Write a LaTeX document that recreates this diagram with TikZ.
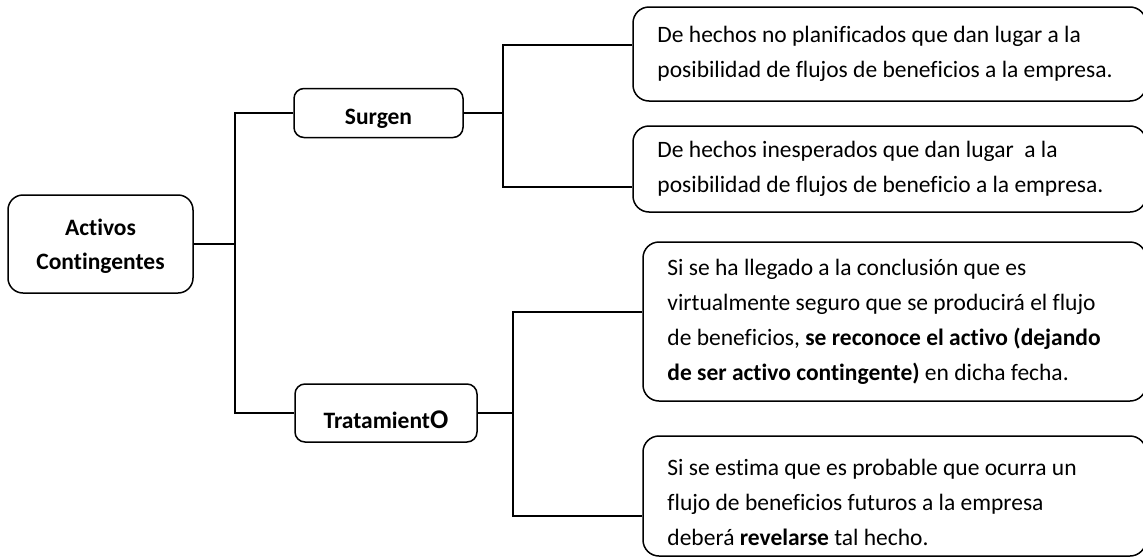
\documentclass[tikz,border=0pt]{standalone}
\usepackage{fontspec}
\setmainfont[Ligatures={NoCommon}]{Carlito}
\begin{document}
\begin{tikzpicture}[x=1pt,y=-1pt,
  conn/.style={line width=1.5pt},
  sbox/.style={draw, line width=1.5pt, rounded corners=10pt, inner sep=0pt},
  rbox/.style={draw, line width=1.5pt, rounded corners=16pt, inner sep=0pt},
  lbl/.style={font=\fontsize{23.5}{34}\selectfont\bfseries, align=center, inner sep=0pt},
  txt/.style={font=\fontsize{23.5}{35}\selectfont, align=left, inner sep=0pt, anchor=west}]
\useasboundingbox (0,0) rectangle (1143,557);
\clip (0,0) rectangle (1143,557);
% left boxes
\node[sbox, rounded corners=15pt, minimum width=185, minimum height=98] (ac) at (100.5,244) {};
\node[lbl] (act) at (100.5,246) {Activos\\Contingentes};
\node[sbox, minimum width=169, minimum height=49] (su) at (378.5,113) {};
\node[lbl] (sut) at (378.5,119) {Surgen};
\node[sbox, minimum width=182, minimum height=58] (tr) at (386,413) {};
\node[lbl] (trt) at (386,420) {Tratamient{\fontsize{27}{27}\selectfont O}};
% right boxes
\node[rbox, minimum width=513, minimum height=94] (b1) at (889.5,54) {};
\node[txt] (t1) at ([xshift=25]b1.west) {De hechos no planificados que dan lugar a la\\posibilidad de flujos de beneficios a la empresa.};
\node[rbox, minimum width=513, minimum height=86] (b2) at (889.5,169) {};
\node[txt] (t2) at ([xshift=25]b2.west) {De hechos inesperados que dan lugar\ \ a la\\posibilidad de flujos de beneficio a la empresa.};
\node[rbox, minimum width=503, minimum height=159] (b3) at (894.5,321.5) {};
\node[txt] (t3) at ([xshift=25]b3.west) {Si se ha llegado a la conclusión que es\\virtualmente seguro que se producirá el flujo\\de beneficios, \textbf{se reconoce el activo (dejando}\\\textbf{de ser activo contingente)} en dicha fecha.};
\node[rbox, minimum width=503, minimum height=120] (b4) at (894.5,496) {};
\node[txt] (t4) at ([xshift=25,yshift=-6]b4.west) {Si se estima que es probable que ocurra un\\flujo de beneficios futuros a la empresa\\deberá \textbf{revelarse} tal hecho.};
% junction columns
\coordinate (j1) at (235,0);
\coordinate (j2) at (503,0);
\coordinate (j3) at (513,0);
% connectors
\draw[conn] (ac.east) -- (ac.east -| j1);
\draw[conn] (su.west) -| (tr.west -| j1) -- (tr.west);
\draw[conn] (su.east) -- (su.east -| j2);
\draw[conn] ([yshift=9]b1.west) -| ([yshift=-18]b2.west -| j2) -- ([yshift=-18]b2.west);
\draw[conn] (tr.east) -- (tr.east -| j3);
\draw[conn] ([yshift=9.5]b3.west) -| ([yshift=-20]b4.west -| j3) -- ([yshift=-20]b4.west);
\end{tikzpicture}
\end{document}
